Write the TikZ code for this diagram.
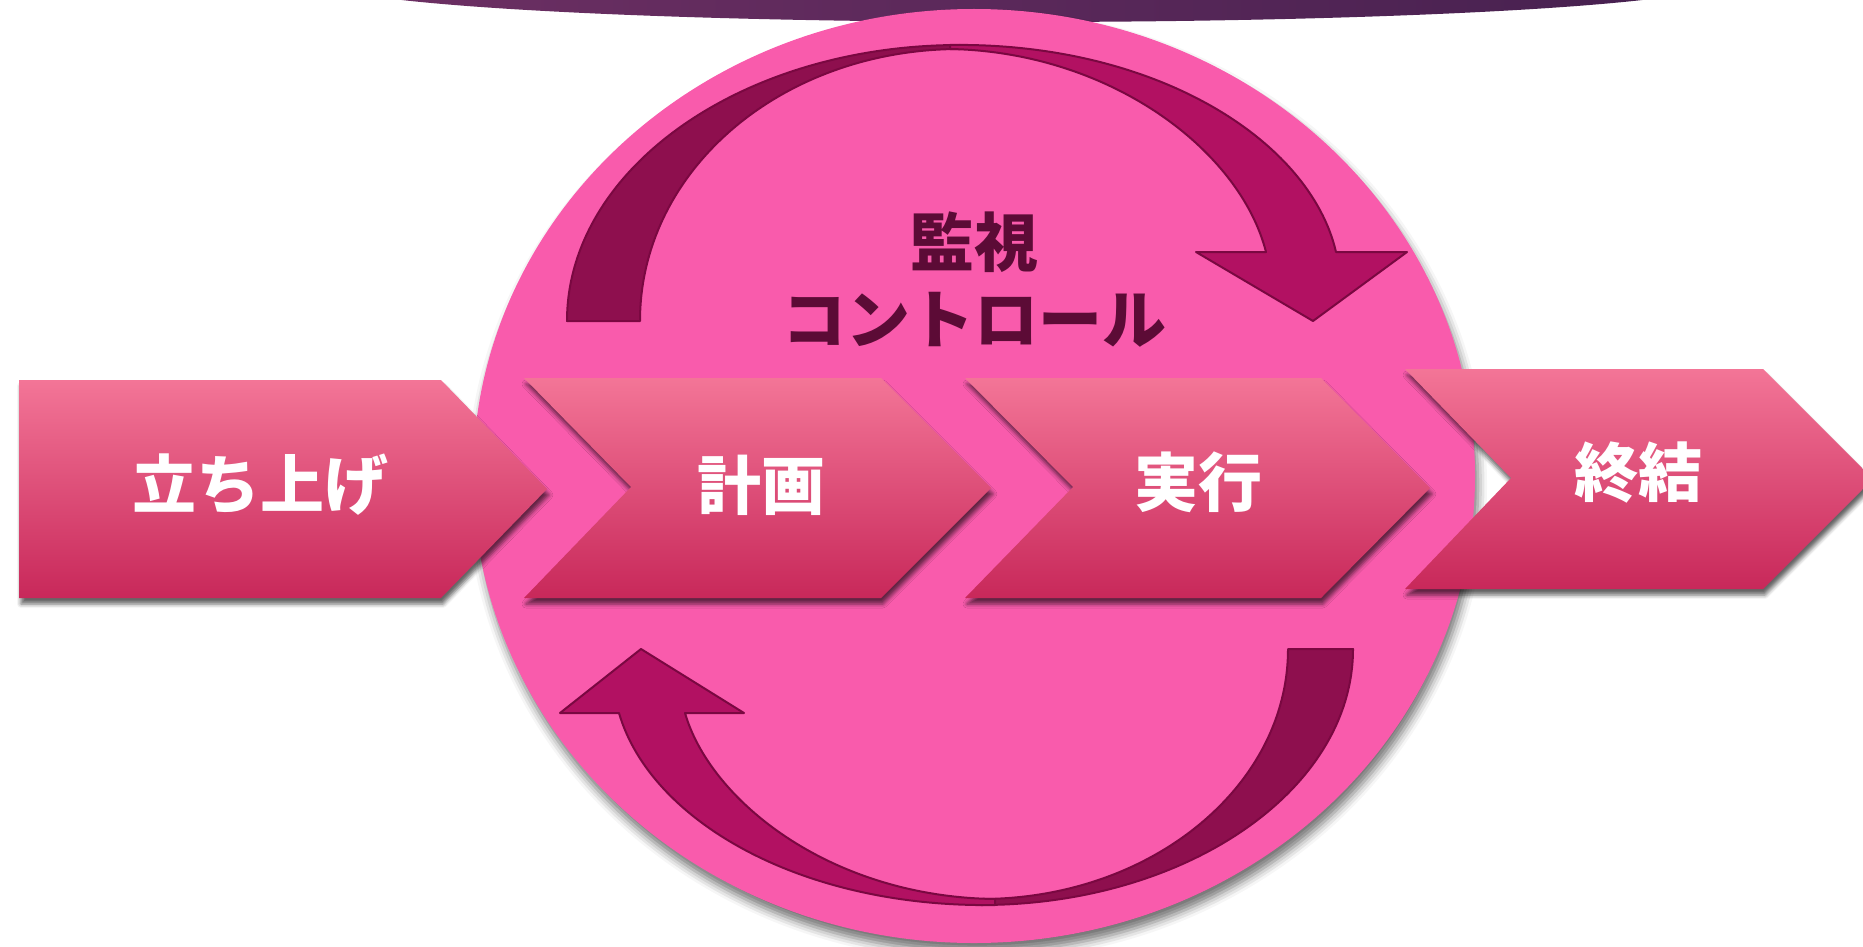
\documentclass[tikz,border=0pt]{standalone}
\usepackage{fontspec}
\newfontfamily\cjk{Noto Sans CJK JP}
\usetikzlibrary{shadows.blur,shapes.geometric}
\definecolor{circpink}{HTML}{F95BAC}
\definecolor{chevtop}{HTML}{F37597}
\definecolor{chevbot}{HTML}{C8285A}
\definecolor{bandA}{HTML}{8E0F4E}
\definecolor{bandB}{HTML}{B21162}
\definecolor{bandline}{HTML}{7A0841}
\definecolor{plum}{HTML}{5C0B36}
\definecolor{purL}{HTML}{6E3064}
\definecolor{purR}{HTML}{45204F}
\tikzset{
  chevron/.style={top color=chevtop, bottom color=chevbot, draw=none,
    blur shadow={shadow xshift=2pt, shadow yshift=-6pt, shadow blur radius=4pt, shadow opacity=60}},
  band/.style={draw=bandline, line width=2pt, line join=round},
  steptext/.style={text=white, font=\cjk\bfseries\fontsize{64}{64}\selectfont, inner sep=0pt},
  ctrltext/.style={text=plum, font=\cjk\bfseries\fontsize{64}{77}\selectfont, align=center, inner sep=0pt}
}
\begin{document}
\begin{tikzpicture}[x=1pt,y=-1pt]
\useasboundingbox (0,0) rectangle (1863,947);
\begin{scope}
\clip (0,0) rectangle (1863,947);
% top purple band
\shade[left color=purL, right color=purR] (1022,-19) ellipse [x radius=700, y radius=41];
% big circle
\node[ellipse, fill=circpink, minimum width=1002pt, minimum height=934pt, inner sep=0pt,
  blur shadow={shadow xshift=3pt, shadow yshift=-9pt, shadow blur radius=9pt, shadow opacity=55}]
  (cyc) at (974,476) {};
% chevrons
\path[chevron] (19,380) -- (441,380) -- (547,489) -- (441,598) -- (19,598) -- cycle;
\path[chevron] (524,378) -- (881,378) -- (991,488) -- (881,598) -- (524,598) -- (631,487) -- cycle;
\path[chevron] (965,378) -- (1321,378) -- (1430,488) -- (1321,598) -- (965,598) -- (1073,487) -- cycle;
\path[chevron] (1405,369) -- (1763,369) -- (1873,479) -- (1763,589) -- (1405,589) -- (1511,478) -- cycle;
% step labels
\node[steptext] (s1) at (260,485) {立ち上げ};
\node[steptext] (s2) at (761,485) {計画};
\node[steptext] (s3) at (1198,482) {実行};
\node[steptext] (s4) at (1638,473) {終結};
% center label
\node[ctrltext] (ctrl) at (974,280) {監視\\コントロール};
% top curved arrow
\path[band, fill=bandA] (567,321) .. controls (567,169) and (742,45) .. (960,45)
  -- (960,49) .. controls (782,49) and (640,170) .. (640,321) -- cycle;
\path[band, fill=bandB] (950,45) .. controls (1155,42) and (1310,140) .. (1336,252)
  -- (1407,252) -- (1313,321) -- (1196,252) -- (1266,252)
  .. controls (1240,150) and (1110,52) .. (950,49) -- cycle;
% bottom curved arrow
\path[band, fill=bandA] (1353,649) .. controls (1353,790) and (1186,905) .. (981,905)
  -- (981,899) .. controls (1150,899) and (1288,787) .. (1288,649) -- cycle;
\path[band, fill=bandB] (995,905) .. controls (800,908) and (650,820) .. (619,713)
  -- (560,713) -- (641,649) -- (744,713) -- (685,713)
  .. controls (710,800) and (830,897) .. (995,899) -- cycle;
\end{scope}
\end{tikzpicture}
\end{document}
